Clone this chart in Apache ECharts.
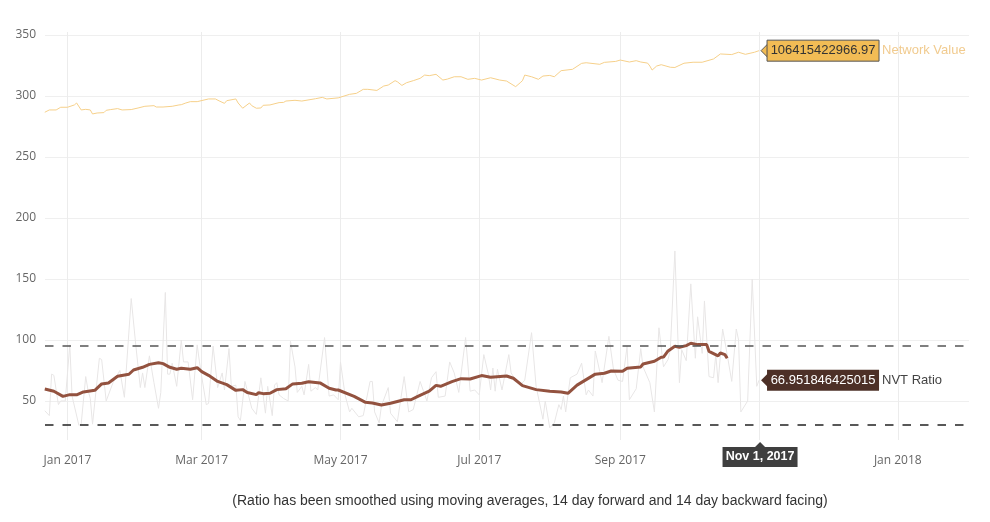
<!DOCTYPE html>
<html>
<head>
<meta charset="utf-8">
<title>NVT Ratio</title>
<script src="https://cdn.jsdelivr.net/npm/echarts@6/dist/echarts.min.js"></script>
<style>
html,body{margin:0;padding:0;background:#fff;}
#chart{width:990px;height:522px;}
</style>
</head>
<body>
<div id="chart"></div>
<script>
// days are counted from Jan 1 2017
var networkDays = [-10,-8,-5,-3,0,3,4,6,8,10, 11,13,16,17,19,22,24,28,31,34,
	38,39,42,46,49,50,52,54,57,62, 65,67,69,70,74,75,77,80,81,83,
	85,86,89,93,95,96,100,103,109,112, 114,119,124,127,130,132,136,139,141,144,
	145,147,149,152,155,157,159,162,165,167, 170,173,176,179,182,186,190,193,197,199,
	200,201,204,207,209,212,214,217,222,226, 228,234,236,241,243,247,250,252,255,256,
	257,259,261,265,267,271,275,279,284,287, 292,295,298,302,304];
var networkValues = [286.7,288.6,288.6,290.8,290.8,292.7,294.3,288.6,289.1,288.6, 285.3,286.1,286.4,288.3,288.9,289.7,288.6,288.9,290.2,291.6,
	292.1,291,291,291.6,292.7,292.9,294.3,295.4,295.4,297.6, 297.6,295.7,294,296.2,297.6,294.3,290,294.3,292.1,290,
	290.2,292.4,292.7,294.6,294.8,295.9,296.5,295.9,297.8,298.9, 297.6,298.5,301.4,302.2,305.5,305.5,304.6,308.2,309,312.6,
	311.7,308.7,310.9,312.6,314.5,317.2,316.7,317.8,313.1,313.9, 315.8,315.8,313.7,314.5,313.1,315,313.1,312.3,307.7,310.9,
	312.6,317.2,315.8,313.7,316.4,316.9,315.8,320.8,321.9,326.8, 327.3,326,327.6,328.4,329.5,327.9,329,327.9,327,324.6,
	321.3,324.6,325.7,323.6,323.4,326.9,327.7,327.7,330.4,334.5, 334,335.9,334.2,335.9,337.2];

var rawDays = [-10,-8,-7,-6,-4,-3,-1,1,2,5, 6,8,9,10,11,14,15,17,20,23,
	25,28,30,32,33,34,36,38,40,41, 43,44,45,46,48,50,51,53,55,57,
	58,59,61,62,64,66,68,69,71,72, 74,75,76,78,81,83,85,87,88,90,
	91,92,93,95,97,98,100,101,103,104, 106,107,109,110,113,115,117,119,120,122,
	124,125,128,130,133,134,135,137,138,141, 142,145,148,150,152,155,158,160,162,163,
	166,168,170,172,175,177,179,181,183,185, 186,187,188,189,191,194,195,197,199,201,
	204,206,209,210,212,214,216,217,218,219, 221,224,226,228,229,231,232,234,235,238,
	240,242,244,246,247,250,252,253,256,258, 260,262,264,265,267,269,270,272,274,276,
	277,279,280,282,284,285,286,288,290,292, 294,295,296,299,301,303,304];
var rawValues = [42,38,72,71,47,50,50,96,54,30, 31,70,59,52,31,85,84,50,65,75,
	53,134,96,61,73,61,87,65,44,57, 139,72,72,81,62,100,82,82,51,96,
	82,70,47,48,95,61,73,59,93,62, 63,37,34,66,44,39,69,40,62,38,
	63,65,55,52,50,99,78,57,62,55, 80,58,61,59,102,54,55,51,82,55,
	41,44,37,38,66,66,41,32,46,61, 40,33,70,41,43,66,50,69,74,53,
	54,82,73,57,102,58,59,55,88,72, 59,77,58,76,59,88,73,67,63,67,
	106,62,35,50,28,32,47,43,54,41, 69,72,81,55,59,54,91,74,65,103,
	76,67,66,95,51,60,93,78,65,41, 110,78,84,92,173,65,92,83,146,85,
	119,89,132,70,69,88,65,109,88,66, 109,100,41,50,150,62,67];

var ratioDays = [-10,-6,-2,1,4,7,12,15,18,22, 27,29,33,36,40,42,45,48,50,54,
	57,59,62,66,70,74,77,79,83,84, 86,89,92,96,99,103,106,111,115,118,
	119,126,131,134,138,142,148,151,154,159, 162,164,169,173,177,182,186,193,196,200,
	206,212,217,220,224,232,236,239,244,246, 252,253,258,261,262,264,267,269,272,274,
	277,281,282,286,287,289,290];
var ratioValues = [59.8,58,53.8,55.2,55,57.4,58.7,64,64.8,70.2, 71.9,75.4,77.6,80,81.4,80.6,77.6,76,76.8,76,
	77.3,74,71,66,63.4,58.7,59.3,57,55.2,56.8, 56,56.3,59.3,60,64,64.5,65.8,64.8,60.4,59,
	59,53.8,48.9,48.4,46.7,48.1,51,51,53.8,58, 62.8,62,65.8,68.3,68,70.8,69.4,70.5,68.6,62.6,
	59.3,58,57.4,56.3,63,72,72.7,74.6,74.3,76.8, 77.9,80.3,82.5,85.8,86,91,94.8,94,95.4,97.3,
	96.2,96.2,90.7,87,89.3,88,85];

var yTicks = [50,100,150,200,250,300,350];
var xTickMonths = [[2017,0],[2017,2],[2017,4],[2017,6],[2017,8],[2017,10],[2018,0]];
var monthNames = ['Jan','Feb','Mar','Apr','May','Jun','Jul','Aug','Sep','Oct','Nov','Dec'];
var bandHigh = 95;
var bandLow = 30.5;
var networkLabel = '106415422966.97';
var ratioLabel = '66.951846425015';
var dateLabel = 'Nov 1, 2017';
var caption = '(Ratio has been smoothed using moving averages, 14 day forward and 14 day backward facing)';

function toTime(d){ return Date.UTC(2017,0,1)+d*86400000; }
function pairs(days,vals){
	return days.map(function(d,i){ return [toTime(d),vals[i]]; });
}
var xTicks = xTickMonths.map(function(m){ return Date.UTC(m[0],m[1],1); });

var myChart = echarts.init(document.getElementById('chart'));
var tickFont = '"Open Sans"';
var boxFont = '"Liberation Sans"';

myChart.setOption({
	animation:false,
	backgroundColor:'#fff',
	grid:{left:45,right:21,top:32,height:408},
	xAxis:{
		type:'value',   // time axis falls over with customValues
		scale:true,
		min:toTime(-9.9),
		max:toTime(396.3),
		axisLine:{show:false},
		axisTick:{show:false,customValues:xTicks},
		splitLine:{show:true,lineStyle:{color:'#ececec',width:1}},
		axisLabel:{
			customValues:xTicks,
			margin:15,
			color:'#666',
			fontFamily:tickFont,
			fontSize:12,
			formatter:function(v){
				var t=new Date(v);
				return monthNames[t.getUTCMonth()]+' '+t.getUTCFullYear();
			}
		}
	},
	yAxis:{
		type:'value',
		min:18,
		max:352.5,
		axisLine:{show:false},
		axisTick:{show:false,customValues:yTicks},
		splitLine:{show:true,lineStyle:{color:'#efefef',width:1}},
		axisLabel:{customValues:yTicks,margin:9,color:'#666',fontFamily:tickFont,fontSize:12,padding:[6,0,0,0]}
	},
	series:[
		{
			name:'NVT Raw',
			type:'line',
			showSymbol:false,
			z:1,
			lineStyle:{color:'#e8e6e6',width:1},
			data:pairs(rawDays,rawValues)
		},
		{
			name:'Network Value',
			type:'line',
			showSymbol:false,
			z:2,
			lineStyle:{color:'#f6d08a',width:1},
			data:pairs(networkDays,networkValues)
		},
		{
			name:'NVT Ratio',
			type:'line',
			showSymbol:false,
			z:3,
			lineStyle:{color:'#93523f',width:3},
			data:pairs(ratioDays,ratioValues),
			markLine:{
				silent:true,
				symbol:'none',
				label:{show:false},
				data:[
					{yAxis:bandHigh,lineStyle:{color:'#555',type:[8.5,9],width:1.5}},
					{yAxis:bandLow,lineStyle:{color:'#222',type:[8.5,9],width:1.5}}
				]
			}
		}
	]
});

// callouts hang off the last point of each series
function callout(pt,text,fill,stroke,color,name,nameColor){
	var left=pt[0]+8, h=21, w=112;
	return [
		{type:'polygon',z:10,shape:{points:[[pt[0]+2,pt[1]],[left+1,pt[1]-7],[left+1,pt[1]+7]]},style:{fill:fill,stroke:stroke,lineWidth:stroke?1:0}},
		{type:'rect',z:10,shape:{x:left,y:pt[1]-h/2,width:w,height:h},style:{fill:fill,stroke:stroke,lineWidth:stroke?1:0}},
		{type:'text',z:11,x:left+w/2,y:pt[1],style:{text:text,fill:color,font:'13px '+boxFont,align:'center',verticalAlign:'middle'}},
		{type:'text',z:11,x:left+w+3,y:pt[1],style:{text:name,fill:nameColor,font:'13px '+boxFont,align:'left',verticalAlign:'middle'}}
	];
}
var lastDay = networkDays[networkDays.length-1];
var netPt = myChart.convertToPixel({gridIndex:0},[toTime(lastDay),networkValues[networkValues.length-1]]);
var rawPt = myChart.convertToPixel({gridIndex:0},[toTime(lastDay),rawValues[rawValues.length-1]]);
var dateX = netPt[0]+1;
var els = callout(netPt,networkLabel,'#f2bc55','#555','#333','Network Value','#f1cb8f')
	.concat(callout(rawPt,ratioLabel,'#4d3027',null,'#fff','NVT Ratio','#444'));
els.push(
	{type:'polygon',z:10,shape:{points:[[dateX,442],[dateX-6,448],[dateX+6,448]]},style:{fill:'#3f3f3f'}},
	{type:'rect',z:10,shape:{x:dateX-37.5,y:447,width:75,height:20},style:{fill:'#3f3f3f'}},
	{type:'text',z:11,x:dateX,y:457,style:{text:dateLabel,fill:'#fff',font:'bold 12.5px '+boxFont,align:'center',verticalAlign:'middle'}},
	{type:'text',z:11,x:530,y:501,style:{text:caption,fill:'#333',font:'14px '+boxFont,align:'center',verticalAlign:'middle'}}
);
myChart.setOption({graphic:{elements:els}});
</script>
</body>
</html>
